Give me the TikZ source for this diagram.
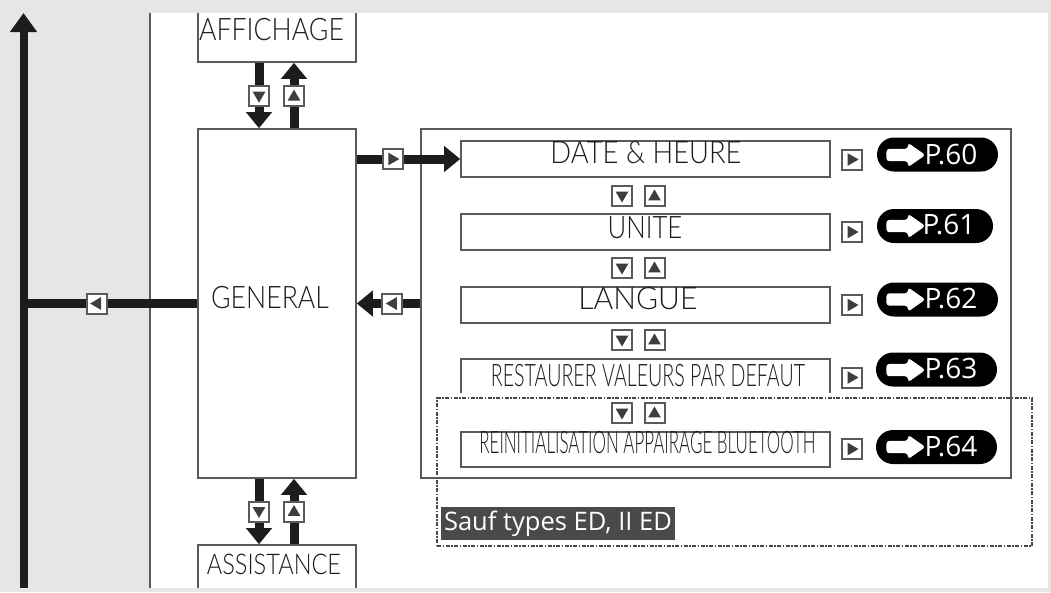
\documentclass[tikz,border=0pt]{standalone}
\usepackage{fontspec}
\usepackage{graphicx}
\setmainfont{Open Sans}
\newfontfamily\lightfont{Lato Light}
\usetikzlibrary{arrows.meta,shapes.misc,shapes.arrows}
\definecolor{pagegray}{HTML}{E6E6E6}
\definecolor{framegray}{HTML}{5A5A5A}
\definecolor{flowblack}{HTML}{1C1C1C}
\definecolor{labelgray}{HTML}{4A4A4A}
\tikzset{
    menubox/.style={draw=framegray,line width=1.6pt,fill=white,inner sep=0pt},
    menutext/.style={inner sep=0pt,text=flowblack,font=\lightfont\fontsize{31}{31}\selectfont},
    flow/.style={draw=flowblack,line width=9pt,-{Triangle[length=16pt,width=25pt]}},
    flowplain/.style={draw=flowblack,line width=9pt},
    btn/.style={rectangle,draw=framegray,line width=2pt,fill=white,
        minimum width=20pt,minimum height=20pt,inner sep=0pt,
        path picture={\fill[flowblack!85]
            ([shift={(-#1:6.5)}]path picture bounding box.center)
            -- ([shift={(-#1+125:7.8)}]path picture bounding box.center)
            -- ([shift={(-#1-125:7.8)}]path picture bounding box.center) -- cycle;}},
    pill/.style={rounded rectangle,fill=black,minimum height=34pt,inner sep=0pt},
    pillarrow/.style={single arrow,fill=white,inner sep=6pt,rounded corners=3pt,
        minimum height=39pt,single arrow head extend=6pt,
        single arrow tip angle=70,single arrow head indent=0pt},
    pilltext/.style={inner sep=0pt,text=white,font=\fontsize{28}{28}\selectfont},
}
\begin{document}
\begin{tikzpicture}[x=1pt,y=-1pt]
    \useasboundingbox (0,0) rectangle (1051,592);
    \fill[pagegray] (0,0) rectangle (1051,592);
    \fill[white] (150,13) rectangle (1048,588);
    \draw[framegray,line width=1.4pt] (150,13) -- (150,588);

    \node[menubox,minimum width=158pt,minimum height=82pt] (affichage) at (277,21) {};
    \node[menubox,minimum width=158pt,minimum height=349pt] (general) at (277,303.5) {};
    \node[menubox,minimum width=158pt,minimum height=45pt] (assistance) at (277,567.5) {};
    \node[menubox,minimum width=590pt,minimum height=349pt] (bigbox) at (716,303.5) {};

    \node[menubox,minimum width=369pt,minimum height=36pt] (date) at (645.5,159) {};
    \node[menubox,minimum width=369pt,minimum height=36pt] (unite) at (645.5,232) {};
    \node[menubox,minimum width=369pt,minimum height=36pt] (langue) at (645.5,305) {};
    \node[menubox,minimum width=369pt,minimum height=36pt] (restaurer) at (645.5,377) {};
    \node[menubox,minimum width=369pt,minimum height=35pt] (reinit) at (645.5,449.5) {};
    \fill[white] (455,393) rectangle (836,398);

    \node[menutext] (affichagetxt) at (271.5,30) {\scalebox{0.86}[1]{AFFICHAGE}};
    \node[menutext] (generaltxt) at (270,298) {\scalebox{0.86}[1]{GENERAL}};
    \node[menutext] (assistancetxt) at (274,564) {\scalebox{0.76}[0.92]{ASSISTANCE}};
    \node[menutext] (datetxt) at (646,153) {\scalebox{0.883}[1]{DATE \& HEURE}};
    \node[menutext] (unitetxt) at (645,228) {\scalebox{0.83}[1]{UNITE}};
    \node[menutext] (languetxt) at (638,299) {\scalebox{0.97}[1]{LANGUE}};
    \node[menutext] (restaurertxt) at (648,376) {\scalebox{0.633}[1]{RESTAURER VALEURS PAR DEFAUT}};
    \node[menutext] (reinittxt) at (647.5,443) {\scalebox{0.547}[1]{REINITIALISATION APPAIRAGE BLUETOOTH}};

    \draw[flow] ([xshift=-18pt]affichage.south) -- node[btn=270,pos=0.51] (affdown) {} ([xshift=-18pt]general.north);
    \draw[flow] ([xshift=17pt]general.north) -- node[btn=90,pos=0.49] (affup) {} ([xshift=17pt]affichage.south);
    \draw[flow] ([xshift=-18pt]general.south) -- node[btn=270] (assdown) {} ([xshift=-18pt]assistance.north);
    \draw[flow] ([xshift=17pt]assistance.north) -- node[btn=90] (assup) {} ([xshift=17pt]general.south);
    \draw[flow] (general.east |- date.west) -- node[btn=0,pos=0.348] (dateright) {} (date.west);
    \draw[flow] (bigbox.west) -- node[btn=180,pos=0.44] (genleft) {} (general.east);

    \coordinate (lefttop) at (23.5,13);
    \coordinate (leftbottom) at (23.5,588);
    \draw[flow,line width=8pt,-{Triangle[length=19pt,width=26pt]}] (leftbottom) -- (lefttop);
    \draw[flowplain] (general.west) -- node[btn=180,pos=0.579] (backleft) {} (general.west -| lefttop);

    \node[btn=270] (dndate) at (622,196) {};
    \node[btn=90] (update) at (654.5,196) {};
    \node[btn=270] (dnunite) at (622,268) {};
    \node[btn=90] (upunite) at (654.5,268) {};
    \node[btn=270] (dnlangue) at (622,340) {};
    \node[btn=90] (uplangue) at (654.5,340) {};
    \node[btn=270] (dnrest) at (622,413) {};
    \node[btn=90] (uprest) at (654.5,413) {};

    \node[btn=0] (rtdate) at (852,159.5) {};
    \node[btn=0] (rtunite) at (852,232) {};
    \node[btn=0] (rtlangue) at (852,305) {};
    \node[btn=0] (rtrest) at (852,377.5) {};
    \node[btn=0] (rtreinit) at (852,449) {};

    \node[pill,minimum width=121pt] (p60) at (937.5,154.5) {};
    \node[pillarrow] (a60) at (901.5,155) {};
    \node[pilltext] (t60) at (951,155) {P.60};
    \node[pill,minimum width=116pt] (p61) at (935,226) {};
    \node[pillarrow] (a61) at (901.5,226) {};
    \node[pilltext] (t61) at (949,225) {P.61};
    \node[pill,minimum width=121pt] (p62) at (937.5,299.5) {};
    \node[pillarrow] (a62) at (901.5,299.5) {};
    \node[pilltext] (t62) at (951,299) {P.62};
    \node[pill,minimum width=121pt] (p63) at (936.5,369.5) {};
    \node[pillarrow] (a63) at (901.5,370) {};
    \node[pilltext] (t63) at (951,369) {P.63};
    \node[pill,minimum width=121pt] (p64) at (936.5,447) {};
    \node[pillarrow] (a64) at (901.5,447) {};
    \node[pilltext] (t64) at (951,447) {P.64};

    \node[draw=flowblack!80,line width=2pt,dash pattern=on 4pt off 1.5pt on 1.5pt off 1.5pt,
        minimum width=595pt,minimum height=148pt,inner sep=0pt] (except) at (734.5,472) {};
    \node[fill=labelgray,text=white,inner sep=0pt,minimum width=234pt,minimum height=33pt,
        font=\fontsize{25.5}{25.5}\selectfont] (excepttxt) at (558,523.5) {Sauf types ED, II ED};

    \fill[pagegray] (151,0) rectangle (1051,13);
    \fill[pagegray] (151,588) rectangle (1051,592);
\end{tikzpicture}
\end{document}
